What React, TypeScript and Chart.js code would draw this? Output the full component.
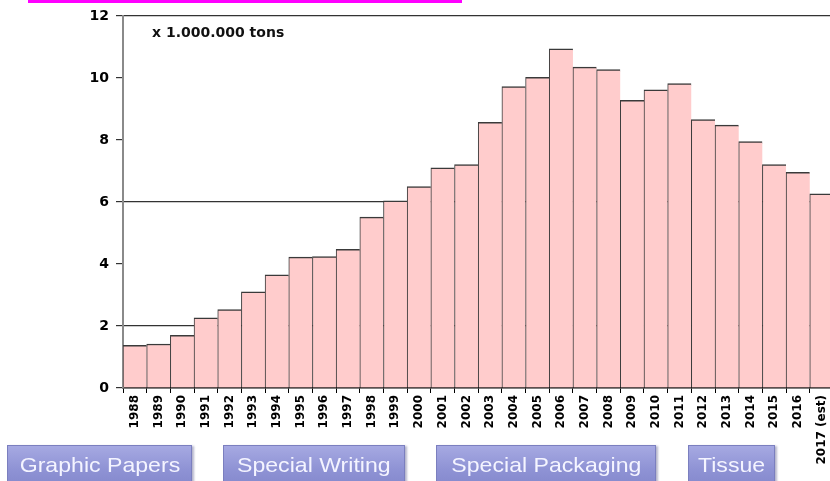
import React, { useEffect, useRef } from "react";
import { Chart, registerables } from "chart.js";

Chart.register(...registerables);

const years: string[] = [
  "1988", "1989", "1990", "1991", "1992", "1993", "1994", "1995", "1996", "1997",
  "1998", "1999", "2000", "2001", "2002", "2003", "2004", "2005", "2006", "2007",
  "2008", "2009", "2010", "2011", "2012", "2013", "2014", "2015", "2016", "2017 (est)",
];

const production: number[] = [
  1.38, 1.42, 1.70, 2.26, 2.53, 3.10, 3.65, 4.22, 4.24, 4.47,
  5.51, 6.04, 6.50, 7.10, 7.21, 8.57, 9.72, 10.02, 10.94, 10.35,
  10.27, 9.28, 9.62, 9.82, 8.66, 8.48, 7.95, 7.21, 6.96, 6.26,
];

const yMin = 0;
const yMax = 12;
const yStep = 2;
const shownGridValues: number[] = [2, 6, 12];

const unitLabel = "x 1.000.000 tons";
const buttonLabels: string[] = ["Graphic Papers", "Special Writing", "Special Packaging", "Tissue"];

const buttonBoxes = [
  { left: 7, width: 185 },
  { left: 223, width: 182 },
  { left: 436, width: 220 },
  { left: 688, width: 87 },
];

export default function App() {
  const canvasRef = useRef<HTMLCanvasElement | null>(null);

  useEffect(() => {
    if (!canvasRef.current) return;
    const chart = new Chart(canvasRef.current, {
      type: "bar",
      data: {
        labels: years,
        datasets: [
          {
            data: production,
            backgroundColor: "#FFCCCC",
            borderColor: "#3a3a3a",
            borderWidth: { top: 1.5, left: 1, right: 0, bottom: 0 },
            borderSkipped: false,
            barPercentage: 1,
            categoryPercentage: 1,
          },
        ],
      },
      options: {
        animation: false,
        responsive: true,
        maintainAspectRatio: false,
        layout: { padding: { top: 16, left: 0, right: 0, bottom: 0 } },
        plugins: {
          legend: { display: false },
          tooltip: { enabled: false },
          title: { display: false },
        },
        scales: {
          x: {
            offset: true,
            afterFit: (scale: any) => {
              scale.height = 93;
            },
            grid: {
              offset: true,
              drawOnChartArea: false,
              drawTicks: true,
              tickLength: 5,
              tickColor: "#000",
            },
            border: { display: true, color: "#000", width: 1.5 },
            ticks: {
              autoSkip: false,
              minRotation: 90,
              maxRotation: 90,
              padding: 2,
              color: "#000",
              font: { family: "'DejaVu Sans', sans-serif", size: 12, weight: "bold" },
            },
          },
          y: {
            min: yMin,
            max: yMax,
            afterFit: (scale: any) => {
              scale.width = 123;
            },
            grid: {
              drawOnChartArea: true,
              drawTicks: true,
              tickLength: 7,
              tickColor: "#333",
              lineWidth: 1.2,
              color: (ctx: any) =>
                ctx.tick && shownGridValues.includes(ctx.tick.value) ? "#333" : "rgba(0,0,0,0)",
            },
            border: { display: true, color: "#8a8a8a", width: 2 },
            ticks: {
              stepSize: yStep,
              padding: 7,
              color: "#000",
              font: { family: "'DejaVu Sans', sans-serif", size: 14, weight: "bold" },
            },
          },
        },
      },
    });
    return () => chart.destroy();
  }, []);

  return (
    <div
      style={{
        position: "fixed",
        left: 0,
        top: 0,
        width: 830,
        height: 481,
        overflow: "hidden",
        background: "#fff",
      }}
    >
      <div style={{ position: "absolute", left: 0, top: 0, width: 838, height: 481 }}>
        <canvas ref={canvasRef} />
      </div>
      <div
        style={{
          position: "absolute",
          left: 28,
          top: 0,
          width: 434,
          height: 3,
          background: "#FF00FF",
        }}
      />
      <div
        style={{
          position: "absolute",
          left: 152,
          top: 24,
          fontFamily: "'DejaVu Sans', sans-serif",
          fontWeight: "bold",
          fontSize: 14,
          color: "#111",
          whiteSpace: "nowrap",
        }}
      >
        {unitLabel}
      </div>
      {buttonLabels.map((label, i) => (
        <div
          key={label}
          style={{
            position: "absolute",
            left: buttonBoxes[i].left,
            top: 445,
            width: buttonBoxes[i].width,
            height: 42,
            boxSizing: "border-box",
            background: "linear-gradient(#a6a9e2, #8e92d4 60%, #8589cc)",
            border: "1px solid #7b7fbf",
            boxShadow: "2px 1px 2px rgba(90,90,140,0.45)",
            color: "#f4f4ff",
            fontFamily: "'Liberation Sans', Arial, sans-serif",
            fontSize: 21,
            display: "flex",
            justifyContent: "center",
            alignItems: "flex-start",
            paddingTop: 7,
            whiteSpace: "nowrap",
          }}
        >
          <span style={{ display: "inline-block", transform: "scaleX(1.1)" }}>{label}</span>
        </div>
      ))}
    </div>
  );
}
